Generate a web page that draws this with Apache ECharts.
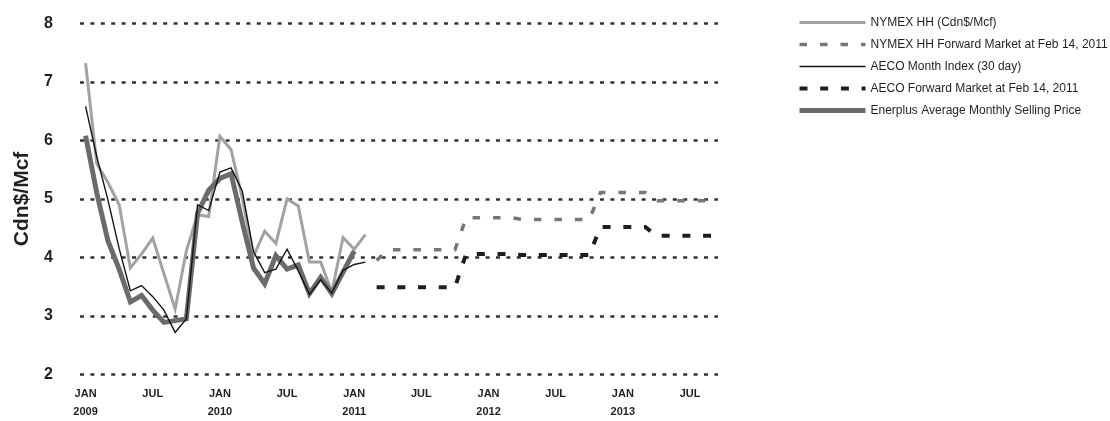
<!DOCTYPE html>
<html>
<head>
<meta charset="utf-8">
<script src="https://cdn.jsdelivr.net/npm/echarts@6/dist/echarts.min.js"></script>
<style>
html,body{margin:0;padding:0;background:#fff;}
#chart{width:1110px;height:421px;}
</style>
</head>
<body>
<div id="chart"></div>
<script>
// Monthly categories Jan 2009 .. Sep 2013
const categories = [
  '2009-01','2009-02','2009-03','2009-04','2009-05','2009-06','2009-07','2009-08','2009-09','2009-10','2009-11','2009-12',
  '2010-01','2010-02','2010-03','2010-04','2010-05','2010-06','2010-07','2010-08','2010-09','2010-10','2010-11','2010-12',
  '2011-01','2011-02','2011-03','2011-04','2011-05','2011-06','2011-07','2011-08','2011-09','2011-10','2011-11','2011-12',
  '2012-01','2012-02','2012-03','2012-04','2012-05','2012-06','2012-07','2012-08','2012-09','2012-10','2012-11','2012-12',
  '2013-01','2013-02','2013-03','2013-04','2013-05','2013-06','2013-07','2013-08','2013-09'
];
// x tick labels, one every 6 months
const tickLabels = ['JAN\n2009','JUL','JAN\n2010','JUL','JAN\n2011','JUL','JAN\n2012','JUL','JAN\n2013','JUL'];
const yTicks = [2, 3, 4, 5, 6, 7, 8];

// Historical series (Cdn$/Mcf)
const nymexHH = [7.32, 5.60, 5.28, 4.90, 3.82, 4.06, 4.33, 3.72, 3.12, 4.11, 4.73, 4.70,
                 6.07, 5.84, 5.01, 4.02, 4.45, 4.24, 5.00, 4.88, 3.92, 3.92, 3.41, 4.34,
                 4.14, 4.39];
const aecoIndex = [6.58, 5.72, 4.98, 4.15, 3.43, 3.52, 3.33, 3.10, 2.72, 2.95, 4.90, 4.80,
                   5.46, 5.53, 5.13, 4.10, 3.74, 3.80, 4.14, 3.77, 3.37, 3.62, 3.39, 3.78,
                   3.88, 3.92];
const enerplus = [6.08, 5.10, 4.28, 3.80, 3.24, 3.35, 3.10, 2.89, 2.92, 2.95, 4.75, 5.15,
                  5.35, 5.43, 4.60, 3.82, 3.55, 4.03, 3.80, 3.87, 3.38, 3.66, 3.38, 3.75,
                  4.11];
// Forward markets at Feb 14, 2011
const nymexFwd = [null,null,null,null,null,null,null,null,null,null,null,null,
                  null,null,null,null,null,null,null,null,null,null,null,null,
                  null,null,3.95,4.13,4.13,4.13,4.13,4.13,4.13,4.13,4.68,4.68,
                  4.68,4.68,4.68,4.65,4.65,4.65,4.65,4.65,4.65,4.65,5.11,5.11,
                  5.11,5.11,5.11,4.97,4.97,4.97,4.97,4.97,4.97];
const aecoFwd = [null,null,null,null,null,null,null,null,null,null,null,null,
                 null,null,null,null,null,null,null,null,null,null,null,null,
                 null,null,3.49,3.49,3.49,3.49,3.49,3.49,3.49,3.49,4.06,4.06,
                 4.06,4.06,4.06,4.04,4.04,4.04,4.04,4.04,4.04,4.04,4.52,4.52,
                 4.52,4.52,4.52,4.37,4.37,4.37,4.37,4.37,4.37];

const seriesNames = [
  'NYMEX HH (Cdn$/Mcf)',
  'NYMEX HH Forward Market at Feb 14, 2011',
  'AECO Month Index (30 day)',
  'AECO Forward Market at Feb 14, 2011',
  'Enerplus Average Monthly Selling Price'
];

const styles = {};
styles[seriesNames[0]] = {color: '#a2a2a2', width: 3, type: 'solid'};
styles[seriesNames[1]] = {color: '#777777', width: 3.5, type: [7.5, 13]};
styles[seriesNames[2]] = {color: '#141414', width: 1.4, type: 'solid'};
styles[seriesNames[3]] = {color: '#1e1e1e', width: 4, type: [8, 12.7]};
styles[seriesNames[4]] = {color: '#6b6b6b', width: 5, type: 'solid'};

const FONT = '"Liberation Sans", Arial, Helvetica, sans-serif';
const chart = echarts.init(document.getElementById('chart'), null, {renderer: 'canvas'});

function lineSeries(name, data, z) {
  const s = styles[name];
  return {
    name: name, type: 'line', data: data, symbol: 'none', connectNulls: false,
    z: z, animation: false,
    lineStyle: {color: s.color, width: s.width, type: s.type, cap: 'butt', join: 'miter'},
    itemStyle: {color: s.color},
    emphasis: {disabled: true}
  };
}

chart.setOption({
  animation: false,
  backgroundColor: '#ffffff',
  grid: {left: 80, right: 392, top: 23.3, bottom: 42.5},
  legend: {
    orient: 'vertical', left: 797, top: 16.5, padding: 0,
    itemWidth: 66, itemHeight: 14, itemGap: 10,
    itemStyle: {opacity: 0},
    data: seriesNames.map(function (n) {
      const s = styles[n];
      return {name: n, lineStyle: {width: s.width, type: s.type, color: s.color}, itemStyle: {opacity: 0}};
    }),
    textStyle: {fontFamily: FONT, fontSize: 12, color: '#231f20'},
    selectedMode: false
  },
  xAxis: {
    type: 'category', data: categories, boundaryGap: true,
    axisLine: {show: false}, axisTick: {show: false}, splitLine: {show: false},
    axisLabel: {
      interval: 5, margin: 10.5,
      fontFamily: FONT, fontSize: 11, fontWeight: 'bold', color: '#231f20', lineHeight: 18,
      formatter: function (v, i) { return tickLabels[Math.round(i / 6)]; }
    }
  },
  yAxis: {
    type: 'value', min: yTicks[0], max: yTicks[yTicks.length - 1], interval: 1,
    name: 'Cdn$/Mcf', nameLocation: 'middle', nameGap: 42,
    nameTextStyle: {fontFamily: FONT, fontSize: 21, fontWeight: 'bold', color: '#231f20'},
    axisLine: {show: false}, axisTick: {show: false},
    axisLabel: {margin: 27, fontFamily: FONT, fontSize: 16, fontWeight: 'bold', color: '#231f20'},
    splitLine: {show: true, lineStyle: {color: '#333333', width: 2.5, type: [4, 6.4]}}
  },
  series: [
    lineSeries(seriesNames[0], nymexHH, 2),
    lineSeries(seriesNames[1], nymexFwd, 2),
    lineSeries(seriesNames[4], enerplus, 3),
    lineSeries(seriesNames[2], aecoIndex, 4),
    lineSeries(seriesNames[3], aecoFwd, 4)
  ]
});
</script>
</body>
</html>
